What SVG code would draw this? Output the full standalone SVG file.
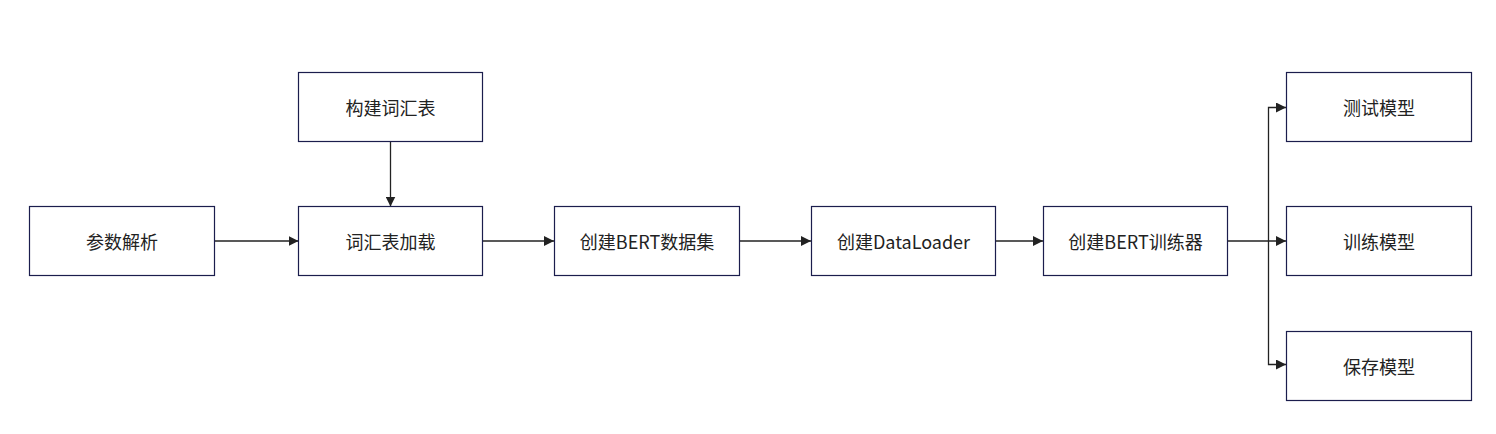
<svg xmlns="http://www.w3.org/2000/svg" width="1496" height="434" viewBox="0 0 1496 434">
<style>
.box{fill:#ffffff;stroke:#1b1d4d;stroke-width:1.2}
.lbl{font-family:"Noto Sans CJK SC","Microsoft YaHei",sans-serif;font-size:18px;fill:#222222;text-anchor:middle;dominant-baseline:central}
.edge{fill:none;stroke:#222222;stroke-width:1.3}
</style>
<defs>
<marker id="arr" viewBox="0 0 10 10" refX="10" refY="5" markerWidth="10" markerHeight="10" markerUnits="userSpaceOnUse" orient="auto">
<path d="M0,0 L10,5 L0,10 z" fill="#222222"/>
</marker>
</defs>
<rect width="1496" height="434" fill="#ffffff"/>
<g id="connectors">
<line class="edge" x1="214.5" y1="241" x2="298.5" y2="241" marker-end="url(#arr)"/>
<line class="edge" x1="390.5" y1="141.5" x2="390.5" y2="206.5" marker-end="url(#arr)"/>
<line class="edge" x1="482.5" y1="241" x2="554" y2="241" marker-end="url(#arr)"/>
<line class="edge" x1="739.5" y1="241" x2="811" y2="241" marker-end="url(#arr)"/>
<line class="edge" x1="995.5" y1="241" x2="1043" y2="241" marker-end="url(#arr)"/>
<line class="edge" x1="1227.5" y1="241" x2="1286" y2="241" marker-end="url(#arr)"/>
<path class="edge" d="M1268.5,241 L1268.5,107.5 L1286,107.5" marker-end="url(#arr)"/>
<path class="edge" d="M1268.5,241 L1268.5,364.5 L1286,364.5" marker-end="url(#arr)"/>
</g>
<g id="n1"><rect class="box" x="29.5" y="206.5" width="185" height="69"/><text class="lbl" x="122" y="241">参数解析</text></g>
<g id="n2"><rect class="box" x="298.5" y="72.5" width="184" height="69"/><text class="lbl" x="390.5" y="107">构建词汇表</text></g>
<g id="n3"><rect class="box" x="298.5" y="206.5" width="184" height="69"/><text class="lbl" x="390.5" y="241">词汇表加载</text></g>
<g id="n4"><rect class="box" x="554.5" y="206.5" width="185" height="69"/><text class="lbl" x="647" y="241">创建BERT数据集</text></g>
<g id="n5"><rect class="box" x="811.5" y="206.5" width="184" height="69"/><text class="lbl" x="903.5" y="241">创建DataLoader</text></g>
<g id="n6"><rect class="box" x="1043.5" y="206.5" width="184" height="69"/><text class="lbl" x="1135.5" y="241">创建BERT训练器</text></g>
<g id="n7"><rect class="box" x="1286.5" y="72.5" width="185" height="69"/><text class="lbl" x="1379" y="107">测试模型</text></g>
<g id="n8"><rect class="box" x="1286.5" y="206.5" width="185" height="69"/><text class="lbl" x="1379" y="241">训练模型</text></g>
<g id="n9"><rect class="box" x="1286.5" y="331.5" width="185" height="69"/><text class="lbl" x="1379" y="366">保存模型</text></g>
</svg>
